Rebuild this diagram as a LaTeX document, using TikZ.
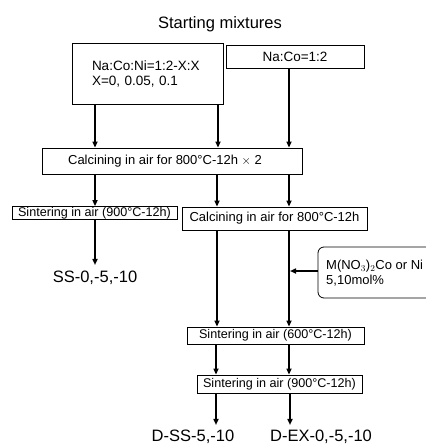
\documentclass[tikz,border=0pt]{standalone}
\usepackage{fontspec}
\setmainfont{Liberation Sans}
\usetikzlibrary{arrows.meta}
\begin{document}
\begin{tikzpicture}[x=1pt,y=-1pt,
  boxed/.style={draw,line width=0.8pt,inner sep=0pt,minimum width=#1},
  boxtxt/.style={font=\fontsize{13}{15}\selectfont},
  stxt/.style={font=\fontsize{12.6}{15}\selectfont,inner ysep=0.6pt},
  bigtxt/.style={font=\fontsize{16.5}{18}\selectfont,inner sep=0pt},
  flow/.style={line width=1.6pt,-{Triangle[length=6pt,width=5pt]}}]
\useasboundingbox (0,0) rectangle (426,445);
% column coordinates
\coordinate (x95) at (95,0);
\coordinate (x216) at (216,0);
\coordinate (x217) at (217,0);
\coordinate (x218) at (218,0);
\coordinate (x289) at (289,0);
\coordinate (x290) at (290,0);
% title
\node[bigtxt] (title) at (220,24) {Starting mixtures};
% starting boxes
\node[boxed=151pt,minimum height=61pt,align=left,text width=111pt,inner xsep=20pt,
      font=\fontsize{13.5}{15}\selectfont] (A) at (147.5,73.5)
      {Na:Co:Ni=1:2-X:X\\X=0, 0.05, 0.1};
\node[boxed=138pt,minimum height=23pt,font=\fontsize{13.5}{15}\selectfont] (B) at (295,56.5) {Na:Co=1:2};
% first calcining
\node[boxed=260pt,minimum height=26pt,boxtxt] (C1) at (172,161) {\hspace*{-14pt}Calcining in air for 800\textdegree C-12h $\times$ 2};
% second row
\node[boxed=165pt,stxt] (S1) at (94.5,213) {Sintering in air (900\textdegree C-12h)};
\node[boxed=185pt,minimum height=23pt,boxtxt] (C2) at (274.5,218.5) {Calcining in air for 800\textdegree C-12h};
\node[bigtxt] (SS) at (95,278) {SS-0,-5,-10};
% additive box
\draw[line width=0.8pt,rounded corners=6pt] (426,247) -- (318,247) -- (318,298) -- (426,298);
\node[boxtxt,anchor=west,align=left,inner sep=0pt] (M) at (326,273)
  {M(NO$_3$)$_2$Co or Ni\\5,10mol\%};
\coordinate (Mleft) at (318,271);
\coordinate (Mtip) at (290,271);
% lower boxes
\node[boxed=177pt,minimum height=17pt,stxt] (S2) at (275.5,335.5) {Sintering in air (600\textdegree C-12h)};
\node[boxed=165pt,minimum height=18pt,stxt] (S3) at (279.5,384) {Sintering in air (900\textdegree C-12h)};
\node[bigtxt] (DSS) at (193,437) {D-SS-5,-10};
\node[bigtxt] (DEX) at (321,437) {D-EX-0,-5,-10};
% connectors
\draw[flow] (A.south -| x95) -- (C1.north -| x95);
\draw[flow] (A.south -| x218) -- (C1.north -| x218);
\draw[flow] (B.south -| x289) -- (C1.north -| x289);
\draw[flow] (C1.south -| x95) -- (S1.north -| x95);
\draw[flow] (C1.south -| x217) -- (C2.north -| x217);
\draw[flow] (C1.south -| x289) -- (C2.north -| x289);
\draw[flow] (S1.south -| x95) -- ([yshift=6pt]SS.north -| x95);
\draw[flow] (C2.south -| x217) -- (S2.north -| x217);
\draw[flow] (C2.south -| x289) -- (S2.north -| x289);
\draw[flow] (Mleft) -- (Mtip);
\draw[flow] (S2.south -| x216) -- (S3.north -| x216);
\draw[flow] (S2.south -| x289) -- (S3.north -| x289);
\draw[flow] (S3.south -| x216) -- ([yshift=5pt]DSS.north -| x216);
\draw[flow] (S3.south -| x290) -- ([yshift=5pt]DEX.north -| x290);
\end{tikzpicture}
\end{document}
